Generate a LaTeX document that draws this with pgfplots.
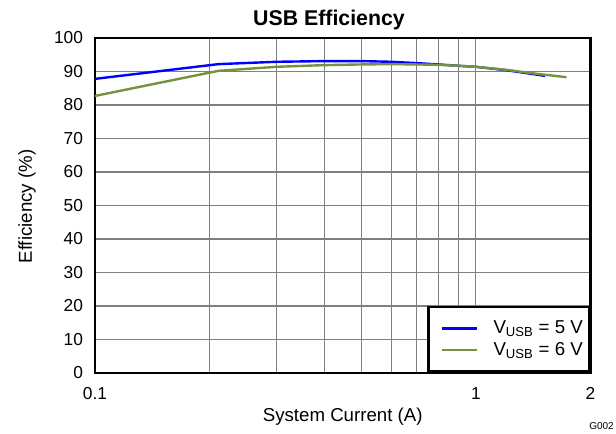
\documentclass[border=0pt]{standalone}
\usepackage{fontspec}
\setmainfont{Liberation Sans}
\usepackage{pgfplots}
\pgfplotsset{compat=1.18}
\definecolor{vblue}{RGB}{0,0,255}
\definecolor{vgreen}{RGB}{118,146,60}
\begin{document}
\begin{tikzpicture}[x=0.75pt,y=0.75pt]
\useasboundingbox (-95,-61) rectangle (521,373);
\begin{axis}[
  at={(0pt,0pt)}, anchor=south west,
  scale only axis, width=371.6pt, height=251.25pt,
  xmode=log, xmin=0.1, xmax=2, ymin=0, ymax=100,
  xtick={0.1,1,2}, xticklabels={0.1,1,2},
  minor xtick={0.2,0.3,0.4,0.5,0.6,0.7,0.8,0.9},
  ytick={0,10,...,100},
  xmajorgrids, xminorgrids, ymajorgrids,
  major grid style={draw=black!50, line width=0.8pt},
  minor grid style={draw=black!50, line width=0.8pt},
  major tick length=0pt, minor tick length=0pt,
  axis line style={line width=2pt},
  /pgf/number format/assume math mode=true,
  tick label style={font=\fontsize{13}{15}\selectfont},
  xticklabel style={yshift=-7.5pt},
  yticklabel style={xshift=-5.5pt},
  every axis title shift=0pt,
  title={\bfseries USB Efficiency},
  title style={font=\fontsize{16}{18}\selectfont, at={(axis description cs:0.4723,1.0358)}, anchor=base},
  xlabel={System Current (A)},
  ylabel={Efficiency (\%)},
  label style={font=\fontsize{14}{16}\selectfont},
  xlabel style={at={(axis description cs:0.5,-0.1299)}, anchor=center},
  ylabel style={at={(axis description cs:-0.1373,0.497)}, anchor=center},
  legend style={at={(1,0)}, anchor=south east, draw=black, line width=2pt, fill=white,
    font=\fontsize{14}{16}\selectfont, row sep=1pt, inner xsep=2.75pt, inner ysep=8.5pt,
    cells={anchor=west}},
  legend cell align=left,
  legend image code/.code={\path[draw=none] (0pt,0pt) -- (44pt,0pt); \draw[#1, line width=1.8pt] (7.5pt,0pt) -- (33.5pt,0pt);},
]
\addplot[vblue, line width=1.8pt] coordinates {
(0.1,87.8)(0.211,92.2)(0.3,92.9)(0.4,93.1)(0.5,93.1)(0.6,92.9)(0.7,92.5)(0.8,92.1)(0.9,91.7)(1.0,91.4)(1.2,90.4)(1.52,88.7)};
\addlegendentry{V\textsubscript{USB} = 5 V}
\addplot[vgreen, line width=1.8pt] coordinates {
(0.1,82.7)(0.211,90.2)(0.3,91.4)(0.4,91.9)(0.5,92.1)(0.6,92.2)(0.7,92.1)(0.8,92.0)(0.9,91.7)(1.0,91.4)(1.2,90.5)(1.4,89.5)(1.73,88.3)};
\addlegendentry{V\textsubscript{USB} = 6 V}
\end{axis}
\node[font=\fontsize{7.5}{8}\selectfont, anchor=east, inner sep=0pt] at (519,-53) {G002};
\end{tikzpicture}
\end{document}
